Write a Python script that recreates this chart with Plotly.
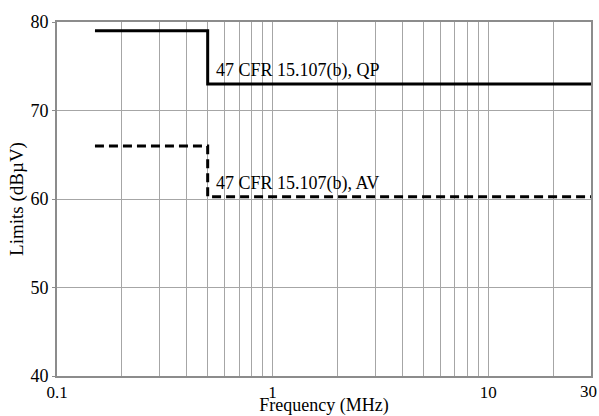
import plotly.graph_objects as go
import math

# Data
qp_freq = [0.15, 0.5, 0.5, 30]
qp_limit = [79, 79, 73, 73]
av_freq = [0.15, 0.5, 0.5, 30]
av_limit = [66, 66, 60.25, 60.25]
qp_label = "47 CFR 15.107(b), QP"
av_label = "47 CFR 15.107(b), AV"
x_title = "Frequency (MHz)"
y_title = "Limits (dBµV)"

grid_vals = [0.1, 0.2, 0.3, 0.4, 0.5, 0.6, 0.7, 0.8, 0.9,
             1, 2, 3, 4, 5, 6, 7, 8, 9, 10, 20, 30]
labeled = {0.1: "0.1", 1: "1", 10: "10"}
grid_text = [labeled.get(v, "") for v in grid_vals]
last_label = "30"
y_ticks = [40, 50, 60, 70, 80]

font = "Liberation Serif, Times New Roman, serif"
fs = 18
fs_xtick = 17
fs_title = 18

fig = go.Figure()
fig.add_trace(go.Scatter(x=qp_freq, y=qp_limit, mode="lines",
                         line=dict(color="black", width=3), showlegend=False))
fig.add_trace(go.Scatter(x=av_freq, y=av_limit, mode="lines",
                         line=dict(color="black", width=3, dash="9px,5px"),
                         showlegend=False))

fig.add_annotation(x=math.log10(qp_freq[1]), y=qp_limit[2], text=qp_label,
                   xref="x", yref="y", xanchor="left", yanchor="bottom",
                   xshift=6, yshift=1, showarrow=False,
                   font=dict(family=font, size=fs, color="black"))
fig.add_annotation(x=math.log10(av_freq[1]), y=av_limit[2], text=av_label,
                   xref="x", yref="y", xanchor="left", yanchor="bottom",
                   xshift=6, yshift=1, showarrow=False,
                   font=dict(family=font, size=fs, color="black"))
# last x tick label, nudged left so it stays inside the picture
fig.add_annotation(x=math.log10(30), y=0, text=last_label,
                   xref="x", yref="paper", xanchor="right", yanchor="top",
                   xshift=8, yshift=-4, showarrow=False,
                   font=dict(family=font, size=fs_xtick, color="black"))

fig.update_layout(
    width=599, height=416,
    margin=dict(l=57, r=8, t=22, b=40),
    paper_bgcolor="white", plot_bgcolor="white",
    font=dict(family=font, size=fs, color="black"),
    xaxis=dict(type="log", range=[-1, math.log10(30)],
               tickvals=grid_vals, ticktext=grid_text,
               tickfont=dict(family=font, size=fs_xtick),
               showgrid=True, gridcolor="#a6a6a6", gridwidth=1,
               showline=True, linecolor="#8c8c8c", linewidth=2, mirror=True,
               ticks="", ticklen=0, zeroline=False, automargin=False,
               title=dict(text=x_title, standoff=5,
                          font=dict(family=font, size=fs_title))),
    yaxis=dict(range=[40, 80], tickvals=y_ticks,
               showgrid=True, gridcolor="#a6a6a6", gridwidth=1,
               showline=True, linecolor="#8c8c8c", linewidth=2, mirror=True,
               ticks="outside", ticklen=3, tickcolor="#8c8c8c",
               zeroline=False, automargin=False,
               title=dict(text=y_title, standoff=2,
                          font=dict(family=font, size=19))),
)

fig.write_html("out.html", config={"displayModeBar": False},
               post_script="document.body.style.margin='0';")
